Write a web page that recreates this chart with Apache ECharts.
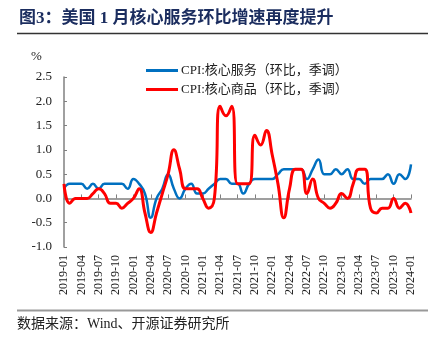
<!DOCTYPE html>
<html>
<head>
<meta charset="utf-8">
<script src="https://cdn.jsdelivr.net/npm/echarts@6/dist/echarts.min.js"></script>
<style>html,body{margin:0;padding:0;background:#fff;}#c{width:438px;height:339px;}</style>
</head>
<body>
<div id="c"></div>
<script>
// Months 2019-01 .. 2024-01
const categories = [];
for (let y = 2019; y <= 2024; y++) {
  for (let m = 1; m <= 12; m++) {
    if (y === 2024 && m > 1) break;
    categories.push(y + '-' + (m < 10 ? '0' + m : m));
  }
}
const seriesNames = ['CPI:核心服务（环比，季调）', 'CPI:核心商品（环比，季调）'];
const coreServices = [
  0.2,0.3,0.3,0.3,0.2,0.3,0.2,0.3,0.3,0.3,
  0.3,0.2,0.4,0.3,0.1,-0.4,0.0,0.2,0.5,0.2,
  0.0,0.2,0.3,0.1,0.1,0.2,0.3,0.4,0.4,0.3,
  0.3,0.1,0.3,0.4,0.4,0.4,0.4,0.5,0.6,0.6,
  0.6,0.6,0.4,0.6,0.8,0.5,0.5,0.6,0.5,0.6,
  0.4,0.4,0.3,0.4,0.4,0.4,0.5,0.3,0.5,0.4,
  0.7
];
const coreGoods = [
  0.3,-0.1,0.0,0.0,0.0,0.1,0.2,0.1,-0.1,-0.1,
  -0.2,-0.1,0.0,0.2,-0.3,-0.7,-0.3,0.1,0.5,1.0,
  0.6,0.2,0.2,0.2,0.0,-0.2,0.0,1.9,1.7,1.9,
  0.3,0.3,0.3,1.3,1.1,1.4,0.9,0.3,-0.4,0.2,
  0.6,0.6,0.1,0.4,0.0,-0.1,-0.2,-0.1,0.1,0.0,
  0.3,0.6,0.6,-0.2,-0.3,-0.2,-0.2,0.0,-0.2,-0.1,
  -0.3
];
const yTicks = { min: -1.0, max: 2.5, interval: 0.5 };
const titleText = '图3：美国 1 月核心服务环比增速再度提升';
const sourceText = '数据来源：Wind、开源证券研究所';

const serif = '"Liberation Serif", "Noto Sans CJK SC", serif';
const chart = echarts.init(document.getElementById('c'), null, { renderer: 'canvas' });
chart.setOption({
  animation: false,
  backgroundColor: '#fff',
  title: {
    text: titleText, left: 14, top: 5,
    textStyle: { fontSize: 17, fontWeight: 'bold', color: '#1b2d5f', fontFamily: serif }
  },
  graphic: [
    { type: 'line', shape: { x1: 17, y1: 33.5, x2: 428, y2: 33.5 }, style: { stroke: '#333', lineWidth: 1.5 } },
    { type: 'line', shape: { x1: 17, y1: 310.5, x2: 428, y2: 310.5 }, style: { stroke: '#999', lineWidth: 2 } },
    { type: 'text', left: 17, top: 317, style: { text: sourceText, fontSize: 14, fill: '#222', fontFamily: serif } },
    { type: 'text', left: 31, top: 50, style: { text: '%', fontSize: 13, fill: '#222', fontFamily: serif } }
  ],
  legend: {
    orient: 'vertical', left: 141, top: 59, itemWidth: 32, itemHeight: 3, itemGap: 6,
    icon: 'rect',
    textStyle: { fontSize: 13, color: '#222', fontFamily: serif, padding: [0, 0, 0, -2] },
    data: seriesNames
  },
  grid: { left: 64, right: 27, top: 77, bottom: 92 },
  xAxis: [
    {
      type: 'category', data: categories, boundaryGap: false,
      axisLine: { onZero: true, lineStyle: { color: '#808080', width: 1.5 } },
      axisTick: { inside: true, length: 4, interval: 2, lineStyle: { color: '#808080' } },
      axisLabel: { show: false }
    },
    {
      type: 'category', data: categories, boundaryGap: false, position: 'bottom',
      axisLine: { show: false, onZero: false }, axisTick: { show: false },
      axisLabel: { interval: 2, rotate: 90, margin: 8, fontSize: 12, color: '#222', fontFamily: serif }
    }
  ],
  yAxis: {
    type: 'value', min: yTicks.min, max: yTicks.max, interval: yTicks.interval,
    splitLine: { show: false },
    axisLine: { show: true, lineStyle: { color: '#808080', width: 1.5 } },
    axisTick: { show: true, inside: true, length: 3, lineStyle: { color: '#808080' } },
    axisLabel: { formatter: v => v.toFixed(1), fontSize: 13, color: '#222', fontFamily: serif, margin: 12 }
  },
  series: [
    { name: seriesNames[0], type: 'line', data: coreServices, smooth: 0.5, symbol: 'none',
      lineStyle: { color: '#0070C0', width: 2.5 }, itemStyle: { color: '#0070C0' } },
    { name: seriesNames[1], type: 'line', data: coreGoods, smooth: 0.5, symbol: 'none',
      lineStyle: { color: '#FF0000', width: 3 }, itemStyle: { color: '#FF0000' } }
  ]
});
</script>
</body>
</html>
